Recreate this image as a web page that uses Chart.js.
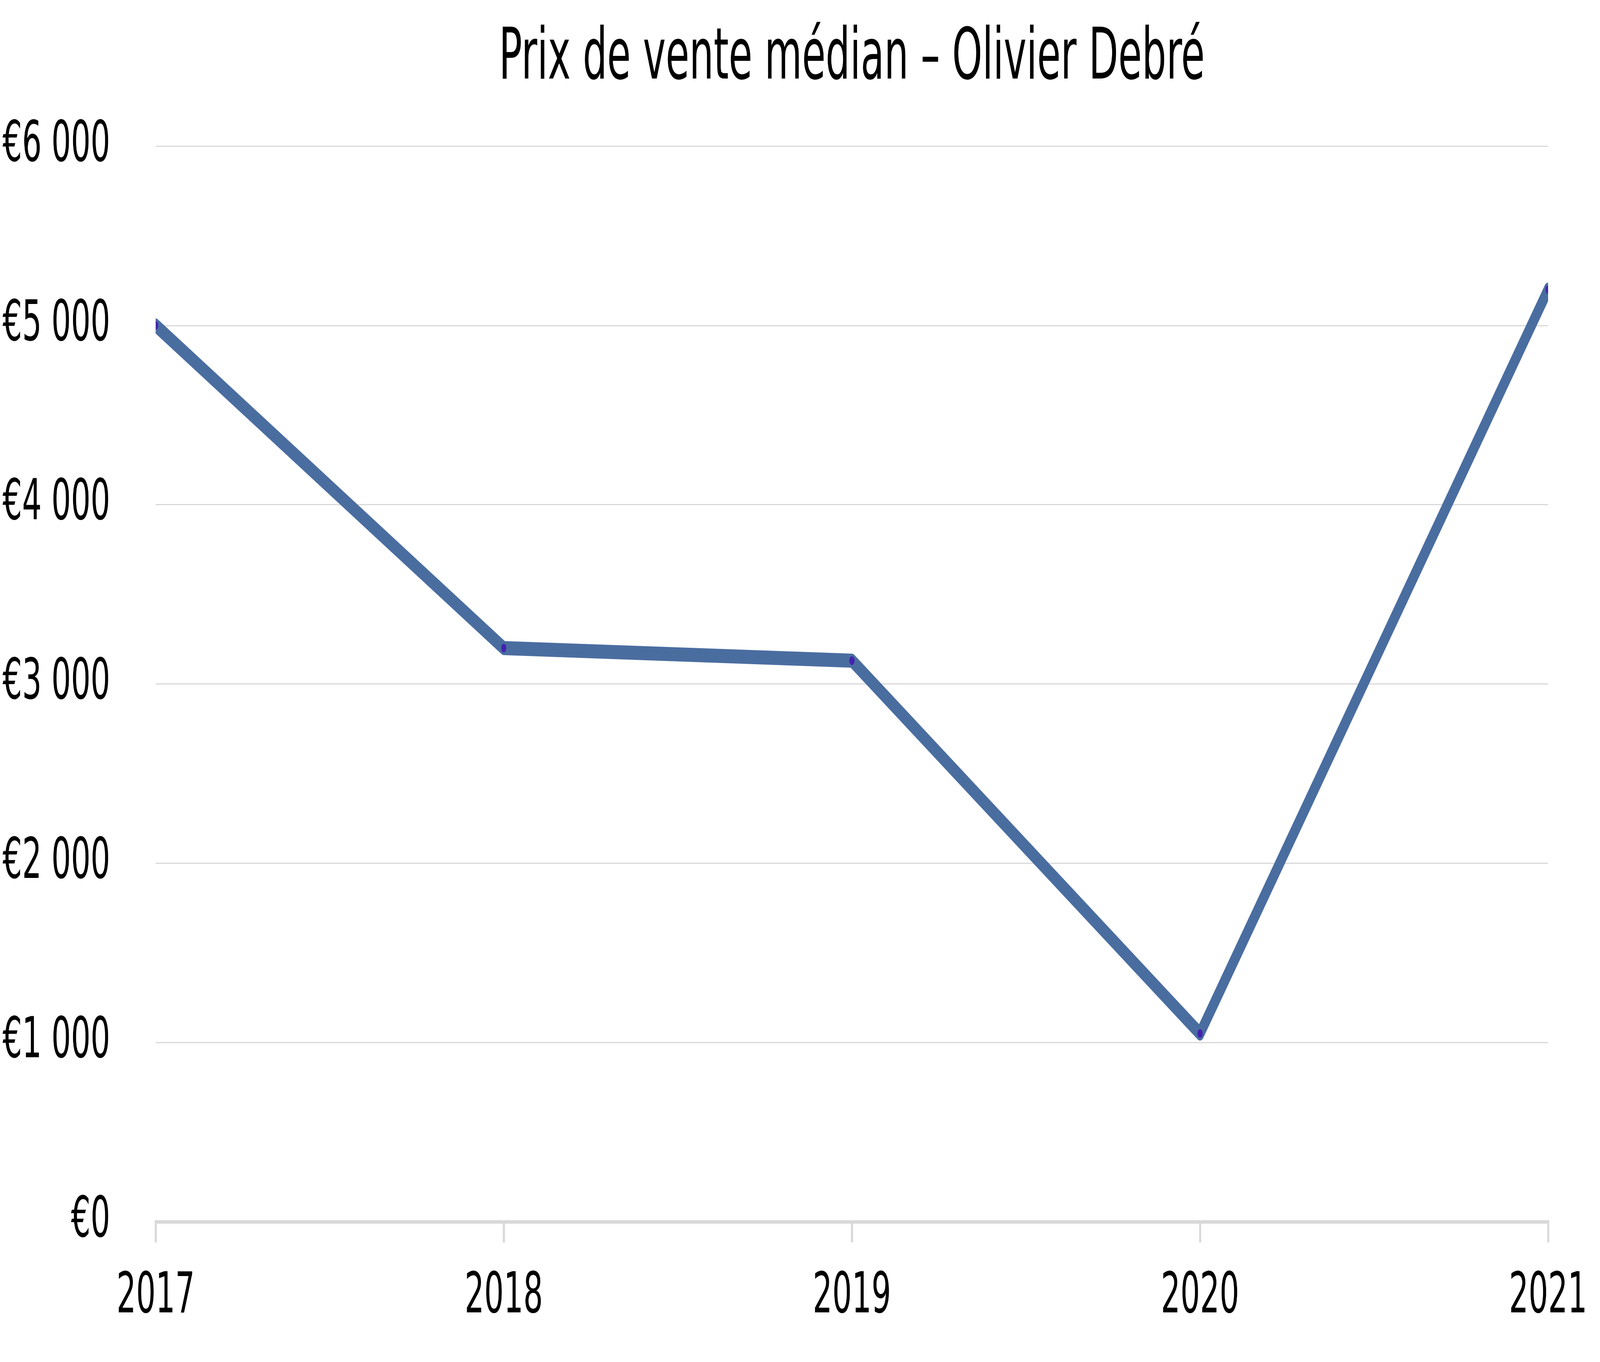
<!DOCTYPE html>
<html>
<head>
<meta charset="utf-8">
<script src="https://cdn.jsdelivr.net/npm/chart.js@4/dist/chart.umd.min.js"></script>
<style>
  html, body { margin: 0; padding: 0; background: #ffffff; overflow: hidden; }
</style>
</head>
<body>
<canvas id="c" width="6784" height="3486"></canvas>
<script>
const chartTitle = "Prix de vente médian – Olivier Debré";
const years = ["2017", "2018", "2019", "2020", "2021"];
const medianPrice = [5000, 3200, 3130, 1050, 5200];
const yMin = 0;
const yMax = 6000;
const yStep = 1000;

function formatEuro(v) {
  const s = String(Math.round(v)).replace(/\B(?=(\d{3})+(?!\d))/g, " ");
  return "€" + s;
}

const FONT = "'DejaVu Sans Condensed', 'DejaVu Sans', sans-serif";

// The chart is laid out at the reference size (6784x3486) and the canvas is
// shown stretched to fill the browser window.
const canvas = document.getElementById("c");
canvas.style.width = (window.innerWidth || 6784) + "px";
canvas.style.height = (window.innerHeight || 3486) + "px";

new Chart(canvas, {
  type: "line",
  data: {
    labels: years,
    datasets: [{
      label: "Prix de vente médian",
      data: medianPrice,
      borderColor: "#4A6DA0",
      backgroundColor: "#4A6DA0",
      borderWidth: 36,
      borderCapStyle: "round",
      borderJoinStyle: "round",
      pointRadius: 11,
      pointBorderWidth: 0,
      pointBackgroundColor: "#4522AF",
      pointHoverRadius: 11,
      tension: 0,
      fill: false,
      clip: 0
    }]
  },
  options: {
    responsive: false,
    animation: false,
    devicePixelRatio: 1,
    layout: { padding: { left: 0, right: 210, top: 0, bottom: 24 } },
    plugins: {
      legend: { display: false },
      tooltip: { enabled: false },
      title: {
        display: true,
        text: chartTitle,
        fullSize: false,
        color: "#000000",
        font: { family: FONT, size: 181, weight: "normal" },
        padding: { top: 45, bottom: 112 }
      }
    },
    scales: {
      x: {
        type: "category",
        offset: false,
        grid: {
          display: true,
          drawOnChartArea: false,
          drawTicks: true,
          tickLength: 53,
          color: "#D9D9D9",
          lineWidth: 9,
          tickWidth: 9
        },
        border: { display: true, color: "#D9D9D9", width: 9 },
        ticks: {
          color: "#000000",
          font: { family: FONT, size: 145 },
          padding: 54,
          maxRotation: 0,
          autoSkip: false
        }
      },
      y: {
        min: yMin,
        max: yMax,
        grid: {
          color: "#D9D9D9",
          lineWidth: 3,
          drawTicks: false
        },
        border: { display: false },
        ticks: {
          stepSize: yStep,
          color: "#000000",
          font: { family: FONT, size: 145 },
          padding: 193,
          callback: (v) => formatEuro(v)
        },
        afterFit: (scale) => { scale.width = 660; }
      }
    }
  }
});
</script>
</body>
</html>
